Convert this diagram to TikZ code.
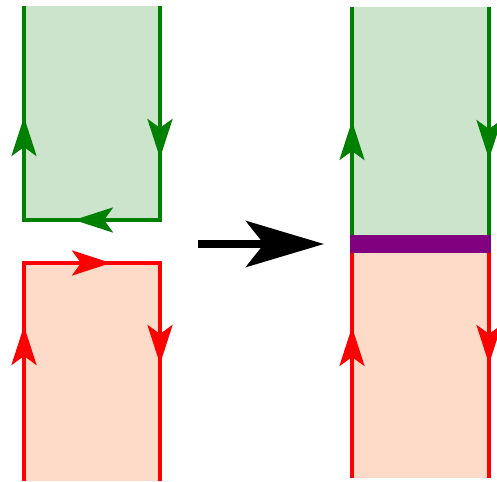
\documentclass[tikz,border=0pt]{standalone}
\usepackage{tikz}
\usetikzlibrary{arrows.meta}

\definecolor{darkgreen}{RGB}{0,128,0}
\definecolor{greenfill}{RGB}{203,228,203}
\definecolor{redfill}{RGB}{254,219,201}
\definecolor{bandpurple}{RGB}{128,0,128}

\begin{document}
\begin{tikzpicture}[x=1pt, y=-1pt,
        gline/.style={darkgreen, line width=4pt},
        rline/.style={red, line width=4pt},
        tip/.style={-{Stealth[length=39pt, width=25pt, inset=9pt]}}]
        \useasboundingbox (0,0) rectangle (497,481);
        % left pieces
        \fill [greenfill] (24,6) rectangle (160,220);
        \draw [gline] (24,6) -- (24,220) -- (160,220) -- (160,6);
        \draw [gline, tip] (24,158) -- (24,117);
        \draw [gline, tip] (160,120) -- (160,158);
        \draw [gline, tip] (112,220) -- (74,220);
        \fill [redfill] (24,263) rectangle (160,481);
        \draw [rline] (24,481) -- (24,263) -- (160,263) -- (160,481);
        \draw [rline, tip] (73,263) -- (111,263);
        \draw [rline, tip] (24,365) -- (24,326);
        \draw [rline, tip] (160,325) -- (160,364);
        % big arrow
        \draw [line width=8pt, -{Stealth[length=78pt, width=46pt, inset=18pt]}] (198,244) -- (324,244);
        % right piece
        \fill [greenfill] (352,7) rectangle (489,244);
        \fill [redfill] (352,244) rectangle (489,478);
        \draw [gline] (352,7) -- (352,244);
        \draw [gline] (489,7) -- (489,244);
        \draw [rline] (352,244) -- (352,478);
        \draw [rline] (489,244) -- (489,478);
        \draw [gline, tip] (352,160) -- (352,121);
        \draw [gline, tip] (489,120) -- (489,159);
        \draw [rline, tip] (352,365) -- (352,327);
        \draw [rline, tip] (489,325) -- (489,364);
        \fill [bandpurple] (350,235) rectangle (491,253);
    \end{tikzpicture}
\end{document}
